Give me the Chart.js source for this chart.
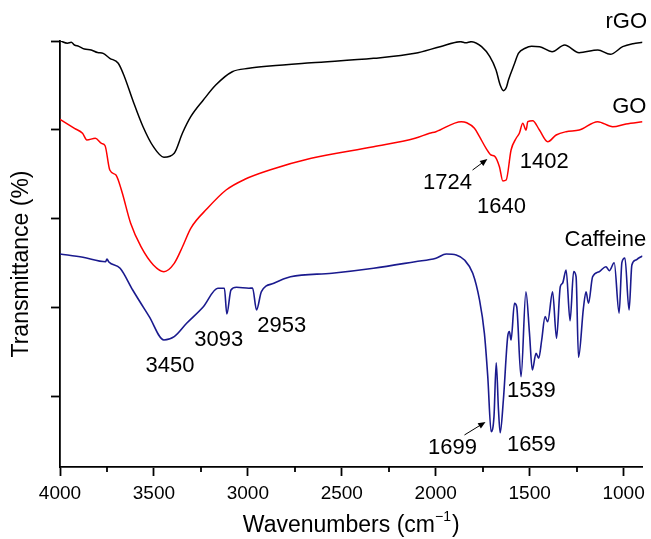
<!DOCTYPE html>
<html>
<head>
<meta charset="utf-8">
<script src="https://cdn.jsdelivr.net/npm/chart.js@4.4.1/dist/chart.umd.min.js"></script>
<style>
  html, body { margin: 0; padding: 0; background: #fff; }
  #wrap { width: 651px; height: 539px; }
</style>
</head>
<body>
<div id="wrap"><canvas id="ftir" width="651" height="539"></canvas></div>
<script>
// FTIR spectra, values (arbitrary transmittance units, offset per curve)
var rgoWn = [4000, 3960, 3940, 3923, 3900, 3870, 3834, 3800, 3770, 3735, 3690, 3657, 3613, 3558, 3503, 3447, 3392, 3348, 3304, 3237, 3171, 3083, 2994, 2884, 2663, 2331, 2110, 1977, 1867, 1840, 1812, 1756, 1712, 1679, 1657, 1639, 1624, 1613, 1580, 1560, 1524, 1490, 1447, 1381, 1314, 1237, 1137, 1071, 1005, 950, 899];
var rgoT = [48.03, 47.75, 47.85, 47.55, 47.40, 47.10, 46.99, 46.70, 46.60, 46.05, 45.49, 43.98, 41.35, 38.34, 36.09, 34.90, 35.35, 37.63, 39.47, 41.35, 43.04, 44.54, 44.92, 45.18, 45.55, 46.05, 46.61, 47.36, 47.92, 47.80, 47.92, 47.36, 46.23, 44.73, 43.04, 42.40, 42.78, 43.61, 45.49, 46.60, 47.18, 47.40, 47.36, 46.79, 47.55, 46.68, 46.99, 46.50, 47.36, 47.70, 47.85];

var goWn = [4000, 3923, 3880, 3857, 3812, 3779, 3760, 3735, 3702, 3690, 3668, 3624, 3569, 3503, 3447, 3392, 3348, 3304, 3215, 3116, 3016, 2884, 2663, 2331, 2110, 2033, 1999, 1864, 1835, 1794, 1767, 1732, 1705, 1687, 1661, 1643, 1625, 1599, 1572, 1555, 1537, 1519, 1510, 1484, 1448, 1404, 1359, 1306, 1236, 1138, 1058, 987, 899];
var goT = [39.18, 38.16, 37.60, 36.85, 37.04, 36.47, 36.20, 33.46, 32.90, 32.34, 30.84, 27.46, 24.82, 22.76, 22.01, 22.95, 24.82, 26.90, 29.15, 31.21, 32.42, 33.46, 34.78, 36.09, 37.04, 37.60, 37.78, 38.91, 38.79, 38.16, 37.22, 35.91, 35.15, 35.04, 33.84, 32.23, 32.34, 35.72, 37.04, 37.60, 38.73, 37.97, 38.91, 39.02, 37.97, 36.65, 37.41, 37.78, 37.97, 38.91, 38.34, 38.65, 38.91];

var cafWn = [4000, 3878, 3757, 3750, 3740, 3680, 3613, 3525, 3447, 3392, 3326, 3237, 3160, 3125, 3112, 3090, 3061, 2994, 2975, 2954, 2928, 2862, 2773, 2552, 2331, 2110, 1999, 1944, 1891, 1847, 1803, 1767, 1741, 1723, 1705, 1690, 1678, 1666, 1657, 1640, 1617, 1608, 1599, 1581, 1569, 1546, 1520, 1501, 1486, 1466, 1452, 1436, 1418, 1404, 1378, 1357, 1337, 1325, 1306, 1285, 1266, 1253, 1240, 1214, 1200, 1187, 1165, 1130, 1094, 1076, 1050, 1024, 1009, 993, 971, 956, 935, 921, 899];
var cafT = [24.00, 23.63, 23.13, 23.44, 23.10, 22.39, 19.94, 16.94, 14.31, 14.68, 16.19, 18.06, 20.14, 20.14, 17.24, 19.94, 20.25, 20.14, 20.17, 17.70, 19.75, 20.70, 21.44, 21.83, 22.39, 23.13, 23.52, 24.00, 23.89, 23.32, 21.83, 18.82, 15.06, 10.17, 3.98, 5.67, 11.75, 6.42, 3.86, 7.55, 14.68, 15.25, 14.31, 18.45, 18.06, 10.17, 19.75, 15.06, 10.93, 12.81, 12.25, 14.31, 16.94, 16.37, 19.75, 14.50, 20.32, 20.70, 22.20, 16.48, 22.01, 21.44, 12.36, 17.88, 19.75, 18.45, 21.44, 22.01, 22.57, 22.12, 23.02, 17.34, 23.06, 23.55, 17.69, 22.76, 23.32, 23.52, 23.77];

var xTicks = [4000, 3500, 3000, 2500, 2000, 1500, 1000];
var xMinorTicks = [3750, 3250, 2750, 2250, 1750, 1250];
var yTicks = [8, 18, 28, 38, 48];

// peak labels placed in data units (wavenumber, value)
var annoText = ['rGO', 'GO', 'Caffeine', '1724', '1640', '1402', '3450', '3093', '2953', '1539', '1699', '1659'];
var annoWn = [986, 970, 1097, 1937, 1650, 1422, 3415, 3155, 2820, 1491, 1911, 1491];
var annoT = [50.14, 40.56, 25.58, 32.0, 29.3, 34.37, 11.38, 14.31, 15.89, 8.56, 2.14, 2.48];

// arrows: [fromWn, fromT, toWn, toT]
var arrows = [
    [1804, 33.46, 1725, 34.70],
    [1847, 3.61, 1735, 5.07]
];

function pts(wn, t) {
    return wn.map(function(w, i) { return {x: w, y: t[i]}; });
}

var FONT = '"Liberation Sans", Arial, Helvetica, sans-serif';

var textPlugin = {
    id: 'ftirText',
    afterDraw: function(chart) {
        var ctx = chart.ctx;
        var xs = chart.scales.x, ys = chart.scales.y;
        var area = chart.chartArea;
        ctx.save();

        // minor ticks on the wavenumber axis
        ctx.strokeStyle = '#000';
        ctx.lineWidth = 1.8;
        xMinorTicks.forEach(function(v) {
            var px = Math.round(xs.getPixelForValue(v));
            ctx.beginPath();
            ctx.moveTo(px, area.bottom);
            ctx.lineTo(px, area.bottom + 5);
            ctx.stroke();
        });

        // peak labels
        ctx.fillStyle = '#000';
        ctx.font = '22px ' + FONT;
        ctx.textAlign = 'center';
        ctx.textBaseline = 'middle';
        annoText.forEach(function(s, i) {
            ctx.fillText(s, xs.getPixelForValue(annoWn[i]), ys.getPixelForValue(annoT[i]));
        });

        // arrows
        arrows.forEach(function(a) {
            var x1 = xs.getPixelForValue(a[0]), y1 = ys.getPixelForValue(a[1]);
            var x2 = xs.getPixelForValue(a[2]), y2 = ys.getPixelForValue(a[3]);
            var ang = Math.atan2(y2 - y1, x2 - x1);
            ctx.lineWidth = 1;
            ctx.beginPath();
            ctx.moveTo(x1, y1);
            ctx.lineTo(x2 - 5 * Math.cos(ang), y2 - 5 * Math.sin(ang));
            ctx.stroke();
            ctx.beginPath();
            ctx.moveTo(x2, y2);
            ctx.lineTo(x2 - 8 * Math.cos(ang - 0.4), y2 - 8 * Math.sin(ang - 0.4));
            ctx.lineTo(x2 - 8 * Math.cos(ang + 0.4), y2 - 8 * Math.sin(ang + 0.4));
            ctx.closePath();
            ctx.fill();
        });

        // axis titles
        var main = 'Wavenumbers (cm';
        ctx.font = '23px ' + FONT;
        var w = ctx.measureText(main).width;
        ctx.font = '14px ' + FONT;
        var w2 = ctx.measureText('\u22121').width;
        ctx.font = '23px ' + FONT;
        var w3 = ctx.measureText(')').width;
        var cx = (area.left + area.right) / 2;
        var x0 = cx - (w + w2 + 1 + w3) / 2;
        ctx.textAlign = 'left';
        ctx.fillText(main, x0, 526);
        ctx.font = '14px ' + FONT;
        ctx.fillText('\u22121', x0 + w, 517);
        ctx.font = '23px ' + FONT;
        ctx.fillText(')', x0 + w + w2 + 1, 526);

        ctx.translate(22, 264);
        ctx.rotate(-Math.PI / 2);
        ctx.textAlign = 'center';
        ctx.fillText('Transmittance (%)', 0, 0);
        ctx.restore();
    }
};

var ctx = document.getElementById('ftir');
var ftirChart = new Chart(ctx, {
    type: 'line',
    data: {
        datasets: [{
            label: 'rGO',
            data: pts(rgoWn, rgoT),
            borderColor: '#000000',
            borderWidth: 1.5
        }, {
            label: 'GO',
            data: pts(goWn, goT),
            borderColor: '#ff0000',
            borderWidth: 1.5
        }, {
            label: 'Caffeine',
            data: pts(cafWn, cafT),
            borderColor: '#1a1a8e',
            borderWidth: 1.6
        }]
    },
    options: {
        responsive: false,
        animation: false,
        devicePixelRatio: 1,
        layout: { padding: { left: 0, right: 8, top: 41, bottom: 0 } },
        elements: {
            point: { radius: 0 },
            line: { cubicInterpolationMode: 'monotone', fill: false }
        },
        plugins: {
            legend: { display: false },
            tooltip: { enabled: false }
        },
        scales: {
            x: {
                type: 'linear',
                reverse: true,
                min: 900,
                max: 4000,
                afterBuildTicks: function(scale) {
                    scale.ticks = xTicks.map(function(v) { return {value: v}; });
                },
                afterFit: function(scale) { scale.height = 72; },
                border: { display: true, color: '#000', width: 1.8 },
                grid: { drawOnChartArea: false, drawTicks: true, tickLength: 9, tickColor: '#000', tickWidth: 1.8 },
                ticks: {
                    color: '#000',
                    font: { family: FONT, size: 19 },
                    padding: 6,
                    maxRotation: 0,
                    autoSkip: false,
                    callback: function(v) { return String(v); }
                }
            },
            y: {
                type: 'linear',
                min: 0,
                max: 48,
                afterBuildTicks: function(scale) {
                    scale.ticks = yTicks.map(function(v) { return {value: v}; });
                },
                afterFit: function(scale) { scale.width = 60; },
                border: { display: true, color: '#000', width: 1.8 },
                grid: { drawOnChartArea: false, drawTicks: true, tickLength: 9, tickColor: '#000', tickWidth: 1.8 },
                ticks: { display: false }
            }
        }
    },
    plugins: [textPlugin]
});
</script>
</body>
</html>
